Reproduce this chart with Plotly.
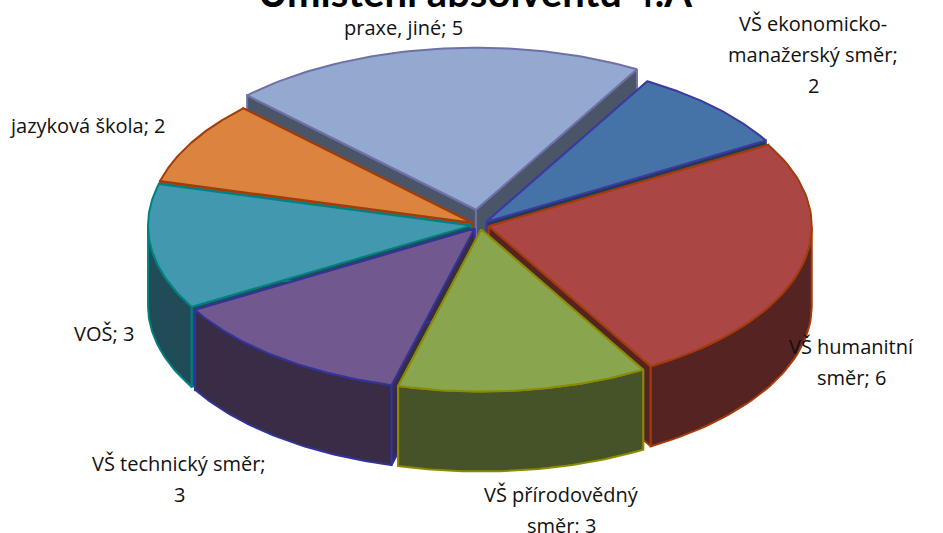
import numpy as np
import plotly.graph_objects as go

# data
categories = ['VŠ ekonomicko-manažerský směr', 'VŠ humanitní směr', 'VŠ přírodovědný směr',
              'VŠ technický směr', 'VOŠ', 'jazyková škola', 'praxe, jiné']
values = [2, 6, 3, 3, 3, 2, 5]
explode = [0.028, 0.028, 0.028, 0.028, 0.028, 0.028, 0.095]
top_colors = ['#4572A7', '#AA4643', '#89A54E', '#71588F', '#4198AF', '#DB843D', '#93A9CF']
wall_colors = ['#23395A', '#552322', '#465227', '#392C47', '#204C58', '#9A4A1E', '#4A5568']
edge_colors = ['#3A3AA0', '#A33B0B', '#8B8B00', '#33339A', '#008080', '#A33B0B', '#7070A8']
label_lines = [['VŠ ekonomicko-', 'manažerský směr;', '2'], ['VŠ humanitní', 'směr; 6'],
               ['VŠ přírodovědný', 'směr; 3'], ['VŠ technický směr;', '3'], ['VOŠ; 3'],
               ['jazyková škola; 2'], ['praxe, jiné; 5']]
label_x = [813, 851, 561, 179, 104, 87, 403]
label_y = [23, 346, 494, 463, 333, 125, 27]
title_text = 'Umístění absolventů 4.A'

# pie geometry in screen pixels
CX, CY = 480, 225
RX, RY = 323, 162
DEPTH = 80
START = 29.9


def project(theta, ox=0, oy=0):
    # theta is degrees clockwise from the back of the pie
    t = np.radians(theta)
    return ox + CX + RX * np.sin(t), oy + CY - RY * np.cos(t)


def face(xs, ys, fill, line, width=2):
    return go.Scatter(x=xs, y=ys, mode='lines', fill='toself', fillcolor=fill,
                      line=dict(color=line, width=width), hoverinfo='skip', showlegend=False)


total = sum(values)
ends = START + np.cumsum(values) * 360 / total
starts = ends - np.array(values) * 360 / total

# back slices first
mids = (starts + ends) / 2
order = sorted(range(len(values)), key=lambda i: -np.cos(np.radians(mids[i])))

fig = go.Figure()
for i in order:
    a, b = starts[i], ends[i]
    ox = explode[i] * RX * np.sin(np.radians(mids[i]))
    oy = -explode[i] * RY * np.cos(np.radians(mids[i]))
    arc = np.linspace(a, b, 60)
    ax, ay = project(arc, ox, oy)
    px, py = CX + ox, CY + oy

    # radial side walls
    for e_x, e_y in ((ax[0], ay[0]), (ax[-1], ay[-1])):
        fig.add_trace(face([px, e_x, e_x, px, px], [py, e_y, e_y + DEPTH, py + DEPTH, py],
                           wall_colors[i], edge_colors[i]))
    # outer wall, only the part facing the viewer
    vis = arc[(np.cos(np.radians(arc)) <= 0)]
    if len(vis) > 1:
        vx, vy = project(vis, ox, oy)
        fig.add_trace(face(np.r_[vx, vx[::-1], vx[0]], np.r_[vy, vy[::-1] + DEPTH, vy[0]],
                           wall_colors[i], edge_colors[i]))
    # top
    fig.add_trace(face(np.r_[px, ax, px], np.r_[py, ay, py], top_colors[i], edge_colors[i]))

annotations = [dict(x=475, y=18, text='<b>%s</b>' % title_text, showarrow=False, yanchor='bottom',
                    font=dict(family='Lato', size=40, color='black'))]
LINE_GAP = 31
for lines, lx, ly in zip(label_lines, label_x, label_y):
    for n, line in enumerate(lines):
        annotations.append(dict(x=lx, y=ly + n * LINE_GAP, text=line, showarrow=False,
                                font=dict(family='Open Sans', size=20, color='#111111')))

fig.update_layout(
    width=943, height=533, margin=dict(l=0, r=0, t=0, b=0),
    paper_bgcolor='white', plot_bgcolor='white', showlegend=False,
    xaxis=dict(range=[0, 943], visible=False, fixedrange=True),
    yaxis=dict(range=[533, 0], visible=False, fixedrange=True),
    annotations=annotations,
)

# page margin would push the chart 8px off
fig.write_html("out.html", config={'displayModeBar': False},
               post_script="document.body.style.margin='0';document.body.style.overflow='hidden';")
